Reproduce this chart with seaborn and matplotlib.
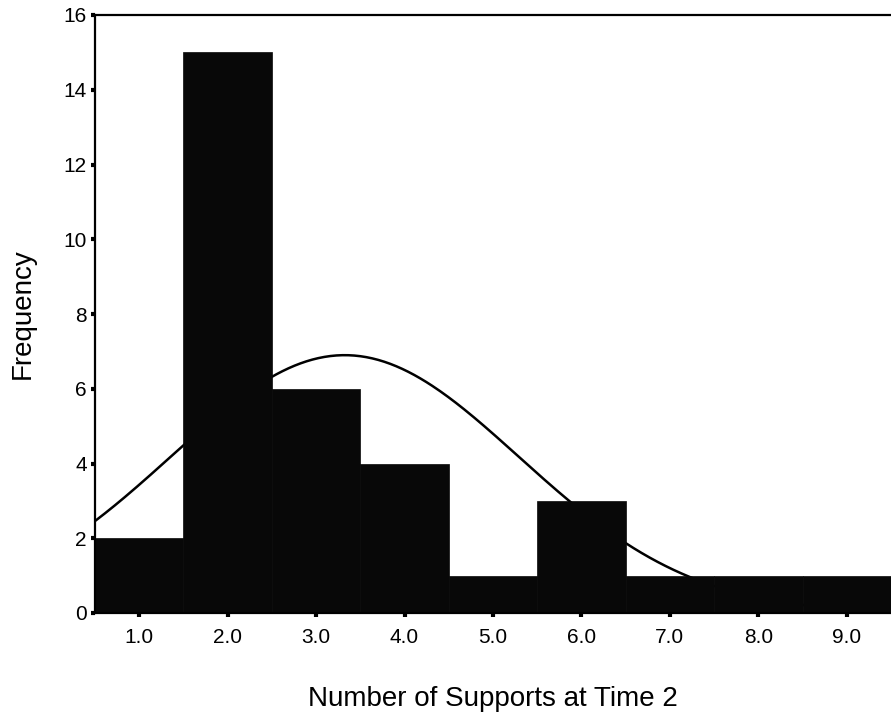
import numpy as np
import pandas as pd
import matplotlib
matplotlib.use("Agg")
import matplotlib.pyplot as plt
import seaborn as sns

# Data
supports = [1, 2, 3, 4, 5, 6, 7, 8, 9]
frequency = [2, 15, 6, 4, 1, 3, 1, 1, 1]
x_tick_labels = ["1.0", "2.0", "3.0", "4.0", "5.0", "6.0", "7.0", "8.0", "9.0"]
y_ticks = [0, 2, 4, 6, 8, 10, 12, 14, 16]

df = pd.DataFrame({"supports": supports, "frequency": frequency})

sns.set_style("white")
plt.rcParams["font.family"] = ["Liberation Sans", "DejaVu Sans"]
plt.rcParams["text.color"] = "black"
plt.rcParams["axes.labelcolor"] = "black"
plt.rcParams["xtick.color"] = "black"
plt.rcParams["ytick.color"] = "black"

fig = plt.figure(figsize=(8.91, 7.2), dpi=100)
ax = fig.add_axes([95 / 891, 1 - 613 / 720, 1 - 95 / 891, (613 - 15) / 720])

# Fitted normal curve (from the data's mean and SD), drawn beneath the bars
vals = np.repeat(df["supports"].values, df["frequency"].values)
mu, sd = vals.mean(), vals.std(ddof=0)
n = vals.size
xs = np.linspace(0.5, 9.5, 400)
ys = n * 1.0 * np.exp(-0.5 * ((xs - mu) / sd) ** 2) / (sd * np.sqrt(2 * np.pi))
sns.lineplot(x=xs, y=ys, ax=ax, color="black", linewidth=1.8, zorder=1)

sns.histplot(data=df, x="supports", weights="frequency", discrete=True,
             color="#080808", edgecolor="#080808", linewidth=0.5, alpha=1.0,
             ax=ax, zorder=2)

ax.set_xlim(0.5, 9.5)
ax.set_ylim(0, 16)
ax.set_xticks(supports)
ax.set_xticklabels(x_tick_labels)
ax.set_yticks(y_ticks)
ax.tick_params(axis="both", direction="out", length=3, width=3, color="black",
               labelcolor="black", labelsize=15, bottom=True, left=True)
ax.tick_params(axis="x", pad=8)
ax.tick_params(axis="y", pad=3)

for side in ["left", "top", "bottom"]:
    ax.spines[side].set_visible(True)
    ax.spines[side].set_color("black")
    ax.spines[side].set_linewidth(1.6)
ax.spines["right"].set_visible(False)

ax.set_xlabel("Number of Supports at Time 2", fontsize=20, labelpad=28, color="black")
ax.set_ylabel("Frequency", fontsize=20, labelpad=20, color="black")

fig.savefig("out.png", dpi=100)
